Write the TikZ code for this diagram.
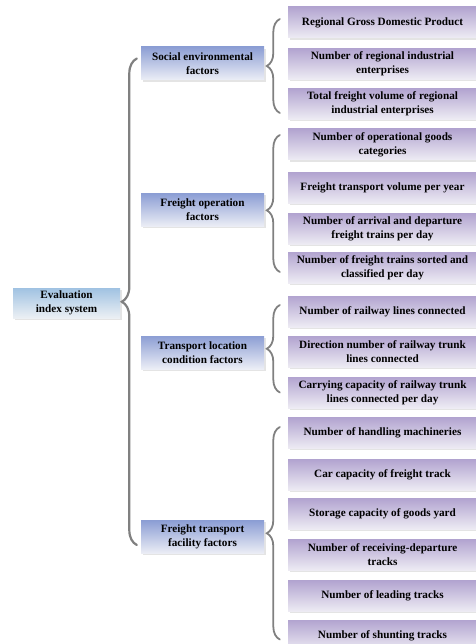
\documentclass[tikz,border=0pt]{standalone}
\usepackage{fontspec}
\setmainfont{Liberation Serif}
\usepackage{xcolor}
\usetikzlibrary{shadows}
\usetikzlibrary{decorations.pathreplacing}

\definecolor{rootblue}{RGB}{160,194,226}
\definecolor{rootlow}{RGB}{236,240,244}
\definecolor{factorblue}{RGB}{140,158,212}
\definecolor{factorlow}{RGB}{236,238,246}
\definecolor{indexpurple}{RGB}{178,164,208}
\definecolor{indexlow}{RGB}{238,236,244}
\definecolor{bracegray}{RGB}{128,128,128}

\begin{document}
\begin{tikzpicture}[x=1pt,y=-1pt,font=\fontsize{11.2}{14}\selectfont\bfseries]
     \tikzstyle{box}=[align=center,inner sep=0pt,
        drop shadow={shadow xshift=1.5pt,shadow yshift=-1.8pt,opacity=0.35,fill=black!30}]
     \tikzstyle{root}=[box,minimum width=107pt,minimum height=30pt,top color=rootblue,bottom color=rootlow]
     \tikzstyle{factor}=[box,minimum width=123pt,minimum height=33pt,top color=factorblue,bottom color=factorlow]
     \tikzstyle{index}=[box,minimum width=189pt,minimum height=31pt,top color=indexpurple,bottom color=indexlow]
     \tikzstyle{curly}=[draw,bracegray,line width=1.8pt,line cap=round,decorate,decoration={brace,amplitude=13pt}]
     \useasboundingbox (0,0) rectangle (475,644);

     \node[root] (root) at (66.5,303) {Evaluation\\index system};

     \node[factor] (f1) at (202.5,63.5) {Social environmental\\factors};
     \node[factor] (f2) at (202.5,210) {Freight operation\\factors};
     \node[factor] (f3) at (202.5,352.5) {Transport location\\condition factors};
     \node[factor] (f4) at (202.5,537) {Freight transport\\facility factors};

     \node[index] (i1) at (382.5,22.5) {Regional Gross Domestic Product};
     \node[index] (i2) at (382.5,64) {Number of  regional industrial\\enterprises};
     \node[index] (i3) at (382.5,104) {Total freight volume of regional\\industrial enterprises};
     \node[index] (i4) at (382.5,144.5) {Number of operational goods\\categories};
     \node[index] (i5) at (382.5,188) {Freight transport volume per year};
     \node[index] (i6) at (382.5,229) {Number of arrival and departure\\freight trains per day};
     \node[index] (i7) at (382.5,267.5) {Number of freight trains sorted and\\classified per day};
     \node[index] (i8) at (382.5,311.5) {Number of railway lines connected};
     \node[index] (i9) at (382.5,352) {Direction number of railway trunk\\lines connected};
     \node[index] (i10) at (382.5,392.5) {Carrying capacity of railway trunk\\lines connected per day};
     \node[index] (i11) at (382.5,433) {Number of handling machineries};
     \node[index] (i12) at (382.5,475) {Car capacity of freight track};
     \node[index] (i13) at (382.5,514) {Storage capacity of goods yard};
     \node[index] (i14) at (382.5,555) {Number of receiving-departure\\tracks};
     \node[index] (i15) at (382.5,596) {Number of leading tracks};
     \node[index] (i16) at (382.5,635.5) {Number of shunting tracks};

     \draw[curly,line width=2.2pt,decoration={amplitude=15pt}] ([xshift=-4pt,yshift=-8pt]f4.west) -- ([xshift=-4pt,yshift=5pt]f1.west);
     \draw[curly] ([xshift=-8pt,yshift=-9pt]i3.west) -- ([xshift=-8pt,yshift=3.5pt]i1.west);
     \draw[curly,decoration={aspect=0.45}] ([xshift=-8pt,yshift=-4.5pt]i7.west) -- ([xshift=-8pt,yshift=9.5pt]i4.west);
     \draw[curly] ([xshift=-8pt]i10.west) -- ([xshift=-8pt,yshift=6.5pt]i8.west);
     \draw[curly] ([xshift=-8pt,yshift=-4pt]i16.west) -- ([xshift=-8pt,yshift=6pt]i11.west);
 \end{tikzpicture}
\end{document}
